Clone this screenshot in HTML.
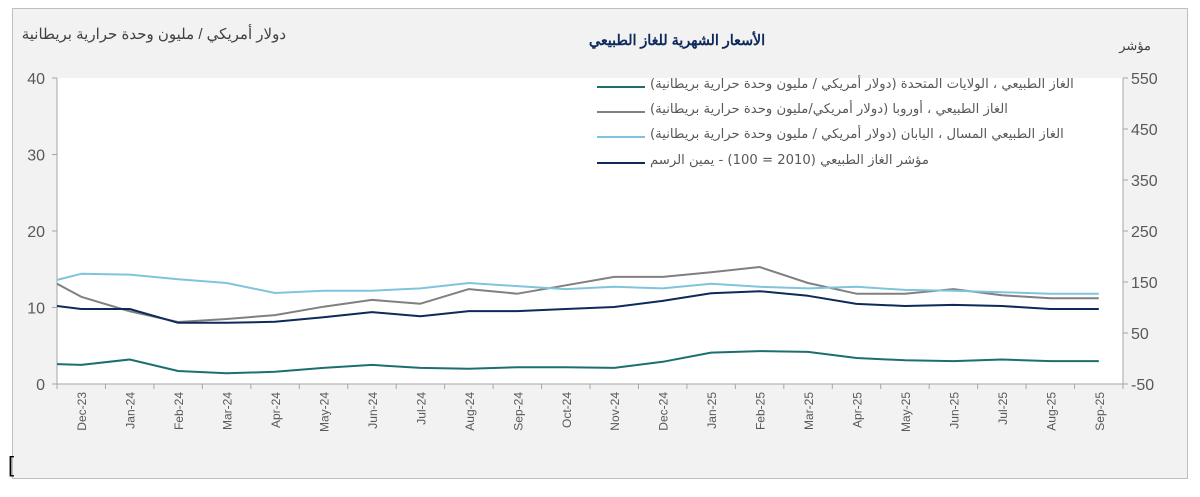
<!DOCTYPE html>
<html><head><meta charset="utf-8"><style>
body{margin:0;width:1200px;height:497px;background:#fff;overflow:hidden;font-family:"Liberation Sans","Noto Sans CJK SC",sans-serif}
#frame{position:absolute;left:12px;top:8px;width:1174px;height:469px;background:#f2f2f2;border:1px solid #bfbfbf}
.lg{position:absolute;left:650px;direction:rtl;white-space:nowrap;font-size:13.2px;color:#595959;font-family:"DejaVu Sans",sans-serif}
.ln{position:absolute;left:597px;width:48px;height:2px}
</style></head><body>
<div id="frame"></div>
<div style="position:absolute;left:8px;top:452px;font-size:22px;color:#000">[</div>
<svg id="chart" width="1200" height="497" style="position:absolute;left:0;top:0"></svg>
<div class="ln" style="top:86px;background:#1d6f6f"></div>
<div class="lg" style="top:77px">الغاز الطبيعي ، الولايات المتحدة (دولار أمريكي  / مليون وحدة حرارية بريطانية)</div>
<div class="ln" style="top:111px;background:#808080"></div>
<div class="lg" style="top:102px">الغاز الطبيعي ، أوروبا (دولار أمريكي/مليون وحدة حرارية بريطانية)</div>
<div class="ln" style="top:136px;background:#7fc4dc"></div>
<div class="lg" style="top:127px">الغاز الطبيعي المسال ، اليابان (دولار أمريكي / مليون وحدة حرارية بريطانية)</div>
<div class="ln" style="top:162px;background:#0e2a5a"></div>
<div class="lg" style="top:153px">مؤشر الغاز الطبيعي (2010 = 100) - يمين الرسم</div>
<script>
const categories=["Nov-23","Dec-23","Jan-24","Feb-24","Mar-24","Apr-24","May-24","Jun-24","Jul-24","Aug-24","Sep-24","Oct-24","Nov-24","Dec-24","Jan-25","Feb-25","Mar-25","Apr-25","May-25","Jun-25","Jul-25","Aug-25","Sep-25"];
const usValues=[2.7,2.5,3.2,1.7,1.4,1.6,2.1,2.5,2.1,2.0,2.2,2.2,2.1,2.9,4.1,4.3,4.2,3.4,3.1,3.0,3.2,3.0,3.0];
const europeValues=[14.8,11.4,9.5,8.1,8.5,9.0,10.1,11.0,10.5,12.4,11.8,12.9,14.0,14.0,14.6,15.3,13.2,11.8,11.8,12.4,11.6,11.2,11.2];
const japanValues=[12.8,14.4,14.3,13.7,13.2,11.9,12.2,12.2,12.5,13.2,12.8,12.4,12.7,12.5,13.1,12.7,12.5,12.7,12.3,12.2,12.0,11.8,11.8];
const indexValues=[109,97,97,70,70,72,81,91,83,93,93,97,101,113,128,132,123,107,103,105,103,97,97];
const leftTicks=[0,10,20,30,40];
const rightTicks=[-50,50,150,250,350,450,550];
const NS="http://www.w3.org/2000/svg";
const svg=document.getElementById('chart');
const X0=57,X1=1123,Y0=384,Y1=78,N=22;
const bw=(X1-X0)/N;
function x(i){return X0+(i-1+0.5)*bw;}
function yL(v){return Y0-(v/40)*(Y0-Y1);}
function yR(v){return Y0-((v+50)/600)*(Y0-Y1);}
function mk(t,a){const e=document.createElementNS(NS,t);for(const k in a)e.setAttribute(k,a[k]);svg.appendChild(e);return e;}
const defs=mk('defs',{});
const cp=document.createElementNS(NS,'clipPath');cp.setAttribute('id','pc');
const cr=document.createElementNS(NS,'rect');cr.setAttribute('x',X0);cr.setAttribute('y',Y1);cr.setAttribute('width',X1-X0);cr.setAttribute('height',Y0-Y1);
cp.appendChild(cr);defs.appendChild(cp);
const plot=mk('rect',{x:X0,y:Y1,width:X1-X0,height:Y0-Y1,fill:'#fff'});


let t=mk('text',{x:677,y:45,'text-anchor':'middle','font-size':14.3,'font-weight':'bold',fill:'#0e2a5a'});t.textContent='الأسعار الشهرية للغاز الطبيعي';


t=mk('text',{x:286,y:39,'text-anchor':'end','font-size':15,fill:'#404040'});t.textContent='دولار أمريكي / مليون وحدة حرارية بريطانية';


t=mk('text',{x:1151,y:50,'text-anchor':'end','font-size':13,fill:'#404040'});t.textContent='مؤشر';


mk('line',{x1:X0,y1:Y1,x2:X0,y2:Y0,stroke:'#a6a6a6'});
mk('line',{x1:X1,y1:Y1,x2:X1,y2:Y0,stroke:'#a6a6a6'});
mk('line',{x1:X0,y1:Y0,x2:X1,y2:Y0,stroke:'#a6a6a6'});
leftTicks.forEach(v=>{mk('line',{x1:X0-5,y1:yL(v),x2:X0,y2:yL(v),stroke:'#a6a6a6'});
 const e=mk('text',{x:X0-12,y:yL(v)+6,'text-anchor':'end','font-size':16,fill:'#595959'});e.textContent=v;
 
 });
rightTicks.forEach(v=>{mk('line',{x1:X1,y1:yR(v),x2:X1+5,y2:yR(v),stroke:'#a6a6a6'});
 const e=mk('text',{x:X1+8,y:yR(v)+6,'font-size':16,fill:'#595959'});e.textContent=v;
 
 });
for(let i=0;i<=N;i++){const xx=X0+i*bw;mk('line',{x1:xx,y1:Y0,x2:xx,y2:Y0+5,stroke:'#a6a6a6'});}
categories.forEach((c,i)=>{if(i===0)return;const xx=x(i);
 const e=mk('text',{x:0,y:0,transform:`translate(${xx+5},${Y0+8}) rotate(-90)`,'text-anchor':'end','font-size':12,fill:'#595959'});e.textContent=c;
 
 });
function line(vals,f,col,name){const p=vals.map((v,i)=>(i?'L':'M')+x(i).toFixed(1)+','+f(v).toFixed(1)).join('');
 const e=mk('path',{d:p,fill:'none',stroke:col,'stroke-width':2,'clip-path':'url(#pc)','stroke-linejoin':'round'});
 
 }
line(usValues,yL,'#1d6f6f','series-us');
line(europeValues,yL,'#808080','series-europe');
line(japanValues,yL,'#7fc4dc','series-japan');
line(indexValues,yR,'#0e2a5a','series-index');
</script>
</body></html>
